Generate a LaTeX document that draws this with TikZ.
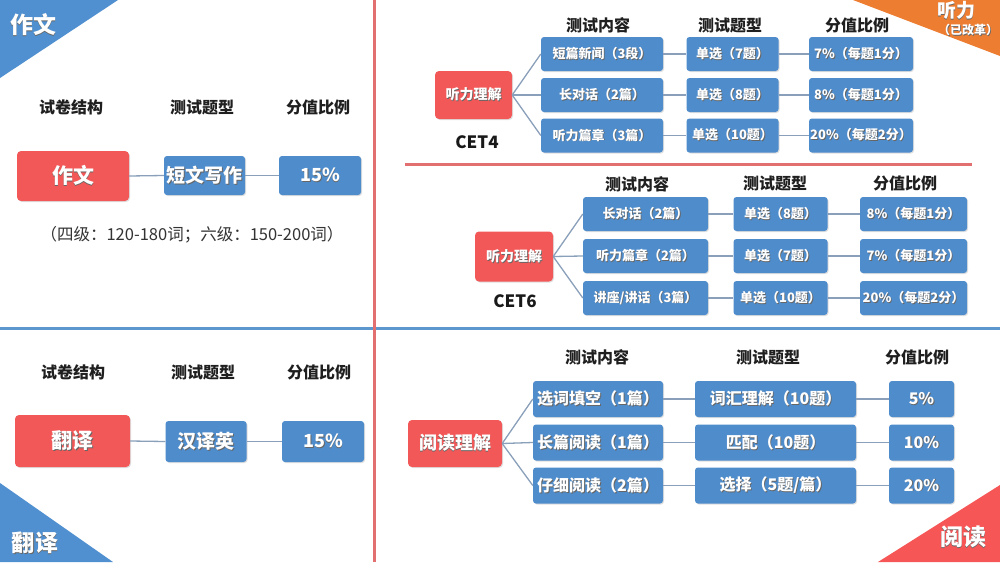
\documentclass[tikz,border=0pt]{standalone}
\usepackage{fontspec}
\setmainfont{Noto Sans CJK SC}
\usetikzlibrary{shadows}
\definecolor{boxred}{RGB}{243,88,88}
\definecolor{boxblue}{RGB}{78,140,204}
\definecolor{connc}{RGB}{138,160,186}
\definecolor{tribl}{RGB}{80,144,208}
\definecolor{triorg}{RGB}{237,125,49}
\definecolor{trired}{RGB}{246,86,86}
\definecolor{vline}{RGB}{226,112,112}
\definecolor{hline}{RGB}{92,152,206}
\newcommand\shtx[1]{\leavevmode\rlap{\kern0.9pt\raisebox{-0.9pt}{\textcolor{black!60}{#1}}}#1}
\tikzset{
  fsz/.style={font=\bfseries\fontsize{#1}{#1}\selectfont},
  rbox/.style={fill=boxred, rounded corners=4pt, text=white, inner sep=0pt,
    drop shadow={shadow xshift=1pt, shadow yshift=-1pt, opacity=0.25}},
  bbox/.style={fill=boxblue, rounded corners=3pt, text=white, inner sep=0pt,
    drop shadow={shadow xshift=1pt, shadow yshift=-1pt, opacity=0.25}},
  hdr/.style={fsz=16, text=black!88, inner sep=0pt},
  conn/.style={draw=connc, line width=1.3pt},
  corner/.style={fsz=23, text=white, inner sep=0pt},
}
\begin{document}
\begin{tikzpicture}[x=1pt,y=-1pt]
\useasboundingbox (0,0) rectangle (1000,562);
\fill[white] (0,0) rectangle (1000,562);
% frame lines
\draw[hline, line width=3pt] (0,328) -- (1000,328);
\draw[vline, line width=3pt] (374,0) -- (374,562);
\draw[vline, line width=3pt] (405,164) -- (972,164);
% corner triangles
\fill[tribl] (0,0) -- (118,0) -- (0,78) -- cycle;
\node[corner] (tzw) at (33,25) {\shtx{作文}};
\fill[tribl] (0,483) -- (113,562) -- (0,562) -- cycle;
\node[corner] (tfy) at (35,543) {\shtx{翻译}};
\fill[triorg] (853,0) -- (1000,0) -- (1000,56) -- cycle;
\node[fsz=19, text=white, inner sep=0pt] (ttl) at (956,11) {\shtx{听力}};
\node[fsz=12, text=white, inner sep=0pt] (tgg) at (968,30) {\shtx{（已改革）}};
\fill[trired] (878,562) -- (1000,485) -- (1000,562) -- cycle;
\node[corner] (tyd) at (963,537) {\shtx{阅读}};

% ===== left top: writing
\node[hdr] (lh1) at (71,107) {试卷结构};
\node[hdr] (lh2) at (202,107) {测试题型};
\node[hdr] (lh3) at (318,107) {分值比例};
\node[rbox, minimum width=112pt, minimum height=50pt, fsz=21] (zw) at (73,176) {\shtx{作文}};
\node[bbox, minimum width=81pt, minimum height=39pt, fsz=19] (dw) at (204.5,175.5) {\shtx{短文写作}};
\node[bbox, minimum width=82pt, minimum height=39pt, fsz=18] (zwp) at (320,175.5) {\shtx{15\%}};
\draw[conn] (zw.east) -- (dw.west);
\draw[conn] (dw.east) -- (zwp.west);
\node[font=\fontsize{16.5}{18}\selectfont, text=black!80, inner sep=0pt] (note) at (192,235) {（四级：120-180词；六级：150-200词）};

% ===== left bottom: translation
\node[hdr] (bh1) at (73,372) {试卷结构};
\node[hdr] (bh2) at (203,372) {测试题型};
\node[hdr] (bh3) at (319,372) {分值比例};
\node[rbox, minimum width=115pt, minimum height=52pt, fsz=21] (fy) at (72.5,441) {\shtx{翻译}};
\node[bbox, minimum width=81pt, minimum height=41pt, fsz=19] (hy) at (206,441.5) {\shtx{汉译英}};
\node[bbox, minimum width=82pt, minimum height=41pt, fsz=18] (fyp) at (323,441.5) {\shtx{15\%}};
\draw[conn] (fy.east) -- (hy.west);
\draw[conn] (hy.east) -- (fyp.west);

% ===== CET4 listening
\node[hdr] (ah1) at (598,25) {测试内容};
\node[hdr] (ah2) at (730,25) {测试题型};
\node[hdr] (ah3) at (857,25) {分值比例};
\node[rbox, minimum width=77pt, minimum height=48pt, fsz=14] (c4r) at (473.5,95) {\shtx{听力理解}};
\node[fsz=17, text=black!90, inner sep=0pt] (c4l) at (477,142) {CET4};
\foreach \n/\y/\a/\b/\c in {1/54/{短篇新闻（3段）}/{单选（7题）}/{7\%（每题1分）},
                            2/95/{长对话（2篇）}/{单选（8题）}/{8\%（每题1分）},
                            3/135.5/{听力篇章（3篇）}/{单选（10题）}/{20\%（每题2分）}}{
  \node[bbox, minimum width=122pt, minimum height=34pt, fsz=13] (c4a\n) at (602,\y) {\shtx{\a}};
  \node[bbox, minimum width=92pt, minimum height=34pt, fsz=13] (c4b\n) at (732.5,\y) {\shtx{\b}};
  \node[bbox, minimum width=104pt, minimum height=34pt, fsz=13] (c4c\n) at (861,\y) {\shtx{\c}};
  \draw[conn] (c4r.east) -- (c4a\n.west);
  \draw[conn] (c4a\n.east) -- (c4b\n.west);
  \draw[conn] (c4b\n.east) -- (c4c\n.west);
}

% ===== CET6 listening
\node[hdr] (sh1) at (637,184) {测试内容};
\node[hdr] (sh2) at (775,183) {测试题型};
\node[hdr] (sh3) at (905,183) {分值比例};
\node[rbox, minimum width=78pt, minimum height=50pt, fsz=14] (c6r) at (514,256.5) {\shtx{听力理解}};
\node[fsz=17, text=black!90, inner sep=0pt] (c6l) at (515,301) {CET6};
\foreach \n/\y/\a/\b/\c in {1/214/{长对话（2篇）}/{单选（8题）}/{8\%（每题1分）},
                            2/256/{听力篇章（2篇）}/{单选（7题）}/{7\%（每题1分）},
                            3/298/{讲座/讲话（3篇）}/{单选（10题）}/{20\%（每题2分）}}{
  \node[bbox, minimum width=125pt, minimum height=34pt, fsz=13] (c6a\n) at (645.5,\y) {\shtx{\a}};
  \node[bbox, minimum width=94pt, minimum height=34pt, fsz=13] (c6b\n) at (780.5,\y) {\shtx{\b}};
  \node[bbox, minimum width=107pt, minimum height=34pt, fsz=13] (c6c\n) at (913.5,\y) {\shtx{\c}};
  \draw[conn] (c6r.east) -- (c6a\n.west);
  \draw[conn] (c6a\n.east) -- (c6b\n.west);
  \draw[conn] (c6b\n.east) -- (c6c\n.west);
}

% ===== reading
\node[hdr] (rh1) at (597,357) {测试内容};
\node[hdr] (rh2) at (768,357) {测试题型};
\node[hdr] (rh3) at (917,357) {分值比例};
\node[rbox, minimum width=94pt, minimum height=47pt, fsz=18] (ydr) at (455,443.5) {\shtx{阅读理解}};
\foreach \n/\y/\a/\b/\c in {1/399/{选词填空（1篇）}/{词汇理解（10题）}/{5\%},
                            2/442.5/{长篇阅读（1篇）}/{匹配（10题）}/{10\%},
                            3/485.5/{仔细阅读（2篇）}/{选择（5题/篇）}/{20\%}}{
  \node[bbox, minimum width=130pt, minimum height=36pt, fsz=16] (yda\n) at (598,\y) {\shtx{\a}};
  \node[bbox, minimum width=161pt, minimum height=36pt, fsz=16] (ydb\n) at (775.5,\y) {\shtx{\b}};
  \node[bbox, minimum width=65pt, minimum height=36pt, fsz=16] (ydc\n) at (921.5,\y) {\shtx{\c}};
  \draw[conn] (ydr.east) -- (yda\n.west);
  \draw[conn] (yda\n.east) -- (ydb\n.west);
  \draw[conn] (ydb\n.east) -- (ydc\n.west);
}
\end{tikzpicture}
\end{document}
